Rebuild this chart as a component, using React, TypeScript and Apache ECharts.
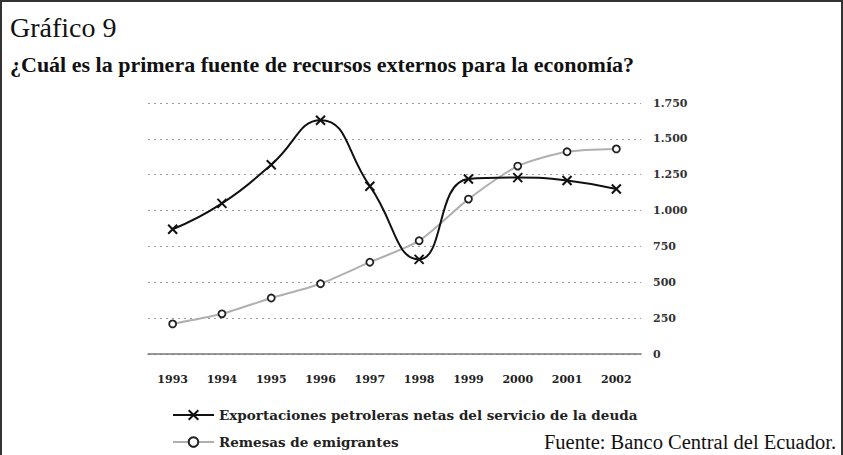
import React, { useEffect, useRef } from "react";
import * as echarts from "echarts";

const years = ["1993", "1994", "1995", "1996", "1997", "1998", "1999", "2000", "2001", "2002"];
const exportaciones = [870, 1050, 1320, 1630, 1170, 660, 1220, 1230, 1210, 1150];
const remesas = [210, 280, 390, 490, 640, 790, 1080, 1310, 1410, 1430];
const yTicks = { min: 0, max: 1750, interval: 250 };
const seriesNames = ["Exportaciones petroleras netas del servicio de la deuda", "Remesas de emigrantes"];

const serif = "Liberation Serif";
const wideSerif = "DejaVu Serif";
const X_SYMBOL = "path://M0,0L10,10M10,0L0,10";

export default function App() {
  const ref = useRef<HTMLDivElement>(null);
  useEffect(() => {
    if (!ref.current) return;
    const chart = echarts.init(ref.current, undefined, { renderer: "svg" });
    const legendCommon = {
      orient: "horizontal",
      left: 165,
      itemWidth: 41,
      itemHeight: 12,
      textStyle: { fontFamily: wideSerif, fontSize: 13.5, fontWeight: "bold", color: "#222" },
    };
    chart.setOption({
      animation: false,
      backgroundColor: "#fff",
      title: [
        {
          text: "Gráfico 9",
          left: 3,
          top: 6,
          textStyle: { fontFamily: serif, fontSize: 28, fontWeight: "normal", color: "#111" },
        },
        {
          text: "¿Cuál es la primera fuente de recursos externos para la economía?",
          left: 3,
          top: 46,
          textStyle: { fontFamily: serif, fontSize: 22, fontWeight: "bold", color: "#111" },
        },
        {
          text: "Fuente: Banco Central del Ecuador.",
          right: 0,
          top: 424,
          textStyle: { fontFamily: serif, fontSize: 20.5, fontWeight: "normal", color: "#111" },
        },
      ],
      legend: [
        { ...legendCommon, top: 401, data: [{ name: seriesNames[0] }] },
        { ...legendCommon, top: 428, data: [{ name: seriesNames[1] }] },
      ],
      grid: { left: 146, right: 200, top: 101, bottom: 101 },
      xAxis: {
        type: "category",
        data: years,
        boundaryGap: true,
        axisLine: { show: true, lineStyle: { color: "#777", width: 1.5 } },
        axisTick: { show: false },
        axisLabel: {
          fontFamily: wideSerif,
          fontWeight: "bold",
          fontSize: 11,
          color: "#222",
          margin: 20,
        },
      },
      yAxis: {
        type: "value",
        position: "right",
        min: yTicks.min,
        max: yTicks.max,
        interval: yTicks.interval,
        axisLine: { show: false },
        axisTick: { show: false },
        axisLabel: {
          fontFamily: wideSerif,
          fontWeight: "bold",
          fontSize: 11,
          color: "#333",
          margin: 12,
          formatter: (v: number) => v.toLocaleString("de-DE"),
        },
        splitLine: { show: true, lineStyle: { color: "#999", type: [2, 4], width: 1 } },
      },
      series: [
        {
          name: seriesNames[0],
          type: "line",
          data: exportaciones,
          smooth: 0.5,
          symbol: X_SYMBOL,
          symbolSize: 9,
          lineStyle: { color: "#111", width: 2 },
          itemStyle: { color: "rgba(0,0,0,0)", borderColor: "#111", borderWidth: 2 },
          z: 3,
        },
        {
          name: seriesNames[1],
          type: "line",
          data: remesas,
          smooth: 0.25,
          symbol: "circle",
          symbolSize: 7,
          lineStyle: { color: "#b0b0b0", width: 2 },
          itemStyle: { color: "#fff", borderColor: "#222", borderWidth: 1.8 },
          z: 2,
        },
      ],
    });
    return () => chart.dispose();
  }, []);
  return (
    <div
      style={{
        position: "absolute",
        left: 0,
        top: 0,
        width: 843,
        height: 455,
        boxSizing: "border-box",
        borderTop: "2px solid #333",
        borderLeft: "2px solid #333",
        borderRight: "2px solid #333",
        background: "#fff",
      }}
    >
      <div ref={ref} style={{ width: "100%", height: "100%" }} />
    </div>
  );
}
